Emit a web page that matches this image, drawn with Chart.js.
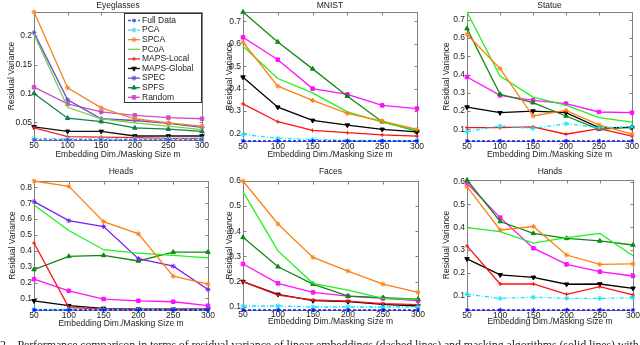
<!DOCTYPE html>
<html>
<head>
<meta charset="utf-8">
<script src="https://cdn.jsdelivr.net/npm/chart.js@4.4.0/dist/chart.umd.min.js"></script>
<style>
  body { margin: 0; background: #fff; width: 640px; height: 345px; overflow: hidden; position: relative; }
  canvas { position: absolute; }
  #caption { position: absolute; left: 0px; top: 338px; white-space: nowrap; font: 12px "Liberation Serif", serif; color: #222; letter-spacing: -0.12px; }
</style>
</head>
<body>
<canvas id="eyeglasses"></canvas>
<canvas id="mnist"></canvas>
<canvas id="statue"></canvas>
<canvas id="heads"></canvas>
<canvas id="faces"></canvas>
<canvas id="hands"></canvas>
<div id="caption">2.&nbsp;&nbsp; Performance comparison in terms of residual variance of linear embeddings (dashed lines) and masking algorithms (solid lines) with</div>
<script>
//x values (embedding dim / masking size)
const dims = [50, 100, 150, 200, 250, 300];

//Eyeglasses
const eyeFull   = [0.019, 0.019, 0.019, 0.019, 0.019, 0.019];
const eyePCA    = [0.022, 0.021, 0.021, 0.021, 0.021, 0.021];
const eyeSPCA   = [0.242, 0.110, 0.075, 0.056, 0.049, 0.043];
const eyePCoA   = [0.203, 0.076, 0.056, 0.049, 0.043, 0.037];
const eyeLocal  = [0.040, 0.025, 0.024, 0.023, 0.022, 0.022];
const eyeGlobal = [0.042, 0.034, 0.034, 0.026, 0.026, 0.026];
const eyeSPEC   = [0.206, 0.089, 0.056, 0.053, 0.048, 0.041];
const eyeSPFS   = [0.100, 0.057, 0.051, 0.040, 0.038, 0.034];
const eyeRandom = [0.111, 0.082, 0.068, 0.062, 0.058, 0.056];
const eyeTicks  = [0.05, 0.1, 0.15, 0.2];

//MNIST
const mnFull   = [0.166, 0.166, 0.166, 0.166, 0.166, 0.166];
const mnPCA    = [0.195, 0.178, 0.173, 0.169, 0.168, 0.168];
const mnSPCA   = [0.607, 0.411, 0.347, 0.289, 0.255, 0.218];
const mnPCoA   = [0.589, 0.445, 0.381, 0.296, 0.250, 0.213];
const mnLocal  = [0.332, 0.252, 0.213, 0.203, 0.193, 0.188];
const mnGlobal = [0.451, 0.317, 0.258, 0.237, 0.218, 0.207];
const mnSPFS   = [0.742, 0.608, 0.488, 0.366, 0.252, 0.210];
const mnRandom = [0.629, 0.529, 0.400, 0.374, 0.325, 0.311];
const mnTicks  = [0.2, 0.3, 0.4, 0.5, 0.6, 0.7];

//Statue
const stFull   = [0.036, 0.036, 0.036, 0.036, 0.036, 0.036];
const stPCA    = [0.087, 0.118, 0.105, 0.131, 0.109, 0.113];
const stSPCA   = [0.621, 0.433, 0.173, 0.204, 0.124, 0.073];
const stPCoA   = [0.743, 0.392, 0.277, 0.232, 0.164, 0.140];
const stLocal  = [0.109, 0.109, 0.113, 0.073, 0.104, 0.063];
const stGlobal = [0.222, 0.191, 0.200, 0.191, 0.109, 0.109];
const stSPFS   = [0.652, 0.292, 0.246, 0.173, 0.100, 0.113];
const stRandom = [0.387, 0.286, 0.259, 0.241, 0.195, 0.191];
const stTicks  = [0.1, 0.2, 0.3, 0.4, 0.5, 0.6, 0.7];

//Heads
const hdFull   = [0.027, 0.027, 0.027, 0.027, 0.027, 0.027];
const hdPCA    = [0.030, 0.030, 0.030, 0.030, 0.030, 0.030];
const hdSPCA   = [0.840, 0.806, 0.584, 0.507, 0.240, 0.190];
const hdPCoA   = [0.689, 0.528, 0.407, 0.386, 0.371, 0.355];
const hdLocal  = [0.449, 0.042, 0.035, 0.033, 0.032, 0.032];
const hdGlobal = [0.085, 0.054, 0.037, 0.033, 0.032, 0.032];
const hdSPEC   = [0.710, 0.590, 0.553, 0.350, 0.303, 0.156];
const hdSPFS   = [0.282, 0.365, 0.371, 0.336, 0.392, 0.392];
const hdRandom = [0.221, 0.148, 0.096, 0.085, 0.079, 0.054];
const hdTicks  = [0.1, 0.2, 0.3, 0.4, 0.5, 0.6, 0.7, 0.8];

//Faces
const fcFull   = [0.087, 0.087, 0.087, 0.087, 0.087, 0.087];
const fcPCA    = [0.103, 0.103, 0.099, 0.099, 0.099, 0.099];
const fcSPCA   = [0.600, 0.429, 0.296, 0.242, 0.190, 0.157];
const fcPCoA   = [0.558, 0.322, 0.193, 0.166, 0.133, 0.129];
const fcLocal  = [0.200, 0.146, 0.127, 0.122, 0.112, 0.108];
const fcGlobal = [0.200, 0.149, 0.124, 0.120, 0.109, 0.103];
const fcSPFS   = [0.376, 0.259, 0.190, 0.142, 0.136, 0.130];
const fcRandom = [0.270, 0.193, 0.157, 0.142, 0.133, 0.124];
const fcTicks  = [0.1, 0.2, 0.3, 0.4, 0.5, 0.6];

//Hands
const hnFull   = [0.037, 0.037, 0.037, 0.037, 0.037, 0.037];
const hnPCA    = [0.106, 0.088, 0.093, 0.088, 0.088, 0.090];
const hnSPCA   = [0.578, 0.388, 0.403, 0.278, 0.237, 0.239];
const hnPCoA   = [0.398, 0.381, 0.330, 0.354, 0.373, 0.275];
const hnLocal  = [0.318, 0.151, 0.151, 0.106, 0.139, 0.103];
const hnGlobal = [0.261, 0.191, 0.180, 0.150, 0.151, 0.132];
const hnSPFS   = [0.607, 0.425, 0.373, 0.351, 0.340, 0.322];
const hnRandom = [0.593, 0.442, 0.308, 0.237, 0.205, 0.186];
const hnTicks  = [0.1, 0.2, 0.3, 0.4, 0.5, 0.6];

Chart.defaults.font.family = '"Liberation Sans", Arial, sans-serif';
Chart.defaults.font.size = 8.5;
Chart.defaults.color = '#222';

//marker + dash per method
const markers = {
    'Full Data':   { point: 'star', radius: 2, dash: [3, 2] },
    'PCA':         { point: 'star', radius: 2.5, dash: [4, 2, 1, 2] },
    'SPCA':        { point: 'star', radius: 2.5 },
    'PCoA':        { point: 'circle', radius: 0 },
    'MAPS-Local':  { point: 'cross', radius: 2 },
    'MAPS-Global': { point: 'triangle', radius: 2.6, rotation: 180 },
    'SPEC':        { point: 'star', radius: 2.5 },
    'SPFS':        { point: 'triangle', radius: 2.6 },
    'Random':      { point: 'rect', radius: 2.5 }
};

const brightColors = {
    'Full Data': '#1010ff', 'PCA': '#10e8f8', 'SPCA': '#ff8010', 'PCoA': '#20f020',
    'MAPS-Local': '#ff1010', 'MAPS-Global': '#000000', 'SPEC': '#7a20f0', 'SPFS': '#108a10', 'Random': '#ff10ff'
};
const softColors = {
    'Full Data': '#3858e0', 'PCA': '#60c8f0', 'SPCA': '#f58228', 'PCoA': '#78d048',
    'MAPS-Local': '#f02828', 'MAPS-Global': '#101010', 'SPEC': '#6050c8', 'SPFS': '#108048', 'Random': '#c850c8'
};

function makeDatasets(series, colors) {
    return series.map(([name, values]) => {
        const m = markers[name];
        const c = colors[name];
        return {
            label: name,
            data: values,
            borderColor: c,
            backgroundColor: c,
            borderWidth: 1.3,
            borderDash: m.dash || [],
            pointStyle: m.point,
            pointRadius: m.radius,
            pointRotation: m.rotation || 0,
            pointBorderColor: c,
            pointBackgroundColor: c,
            pointBorderWidth: 1,
            tension: 0,
            fill: false,
            clip: false
        };
    });
}

//matlab style box with inward ticks
const boxPlugin = {
    id: 'matlabBox',
    beforeDatasetsDraw(chart) {
        const { ctx, chartArea: a, scales: { x, y } } = chart;
        const l = Math.round(a.left) + 0.5, r = Math.round(a.right) + 0.5;
        const t = Math.round(a.top) + 0.5, b = Math.round(a.bottom) + 0.5;
        ctx.save();
        ctx.strokeStyle = '#808080';
        ctx.lineWidth = 1;
        ctx.strokeRect(l, t, r - l, b - t);
        ctx.beginPath();
        x.ticks.forEach((tk, i) => {
            const px = Math.round(x.getPixelForTick(i)) + 0.5;
            ctx.moveTo(px, b); ctx.lineTo(px, b - 3);
            ctx.moveTo(px, t); ctx.lineTo(px, t + 3);
        });
        y.ticks.forEach(tk => {
            const py = Math.round(y.getPixelForValue(tk.value)) + 0.5;
            ctx.moveTo(l, py); ctx.lineTo(l + 3, py);
            ctx.moveTo(r, py); ctx.lineTo(r - 3, py);
        });
        ctx.stroke();
        ctx.restore();
    }
};

//legend inside the Eyeglasses axes
const insetLegend = {
    id: 'insetLegend',
    afterDraw(chart) {
        const { ctx, chartArea: a } = chart;
        const w = 77, h = 89;
        const left = Math.round(a.right) - w - 1, top = Math.round(a.top) + 1;
        ctx.save();
        ctx.fillStyle = '#fff';
        ctx.fillRect(left, top, w, h);
        ctx.strokeStyle = '#333';
        ctx.lineWidth = 1;
        ctx.strokeRect(left + 0.5, top + 0.5, w, h);
        chart.data.datasets.forEach((ds, i) => {
            const cy = top + 7.5 + i * 9.6;
            ctx.strokeStyle = ds.borderColor;
            ctx.lineWidth = ds.borderWidth;
            ctx.setLineDash(ds.borderDash);
            ctx.beginPath();
            ctx.moveTo(left + 4, cy);
            ctx.lineTo(left + 16, cy);
            ctx.stroke();
            ctx.setLineDash([]);
            ctx.fillStyle = ds.pointBackgroundColor;
            ctx.strokeStyle = ds.pointBorderColor;
            ctx.lineWidth = 1;
            Chart.helpers.drawPoint(ctx, { pointStyle: ds.pointStyle, radius: ds.pointRadius, rotation: ds.pointRotation, borderWidth: 1 }, left + 10, cy);
            ctx.fillStyle = '#222';
            ctx.font = '8.5px "Liberation Sans", Arial, sans-serif';
            ctx.textBaseline = 'middle';
            ctx.textAlign = 'left';
            ctx.fillText(ds.label, left + 18, cy);
        });
        ctx.restore();
    }
};

function makePanel(p) {
    const all = p.series.flatMap(s => s[1]);
    const canvas = document.getElementById(p.id);
    const cx = p.left - 34, cw = p.right - p.left + 34 + 12;
    canvas.width = cw;
    canvas.height = p.h;
    canvas.style.left = cx + 'px';
    canvas.style.top = p.y + 'px';

    const config = {
        type: 'line',
        data: { labels: dims, datasets: makeDatasets(p.series, p.colors) },
        options: {
            responsive: false,
            animation: false,
            devicePixelRatio: 1,
            layout: { padding: { left: 0, top: 0, right: 12, bottom: 0 } },
            plugins: {
                legend: { display: false },
                tooltip: { enabled: false },
                title: {
                    display: true,
                    text: p.title,
                    fullSize: false,
                    font: { size: 8.5, weight: 'normal' },
                    color: '#222',
                    padding: p.titlePad
                }
            },
            scales: {
                x: {
                    grid: { display: false, drawTicks: false },
                    border: { display: false },
                    ticks: { autoSkip: false, maxRotation: 0, padding: p.xTickPad },
                    title: { display: true, text: 'Embedding Dim./Masking Size m', padding: { top: 0, bottom: p.xTitlePad } },
                    afterFit: s => { s.height = p.h - p.bottom; }
                },
                y: {
                    min: Math.min(...all),
                    max: Math.max(...all),
                    grid: { display: false, drawTicks: false },
                    border: { display: false },
                    ticks: { padding: 2, callback: v => String(v) },
                    afterBuildTicks: s => { s.ticks = p.ticks.map(v => ({ value: v })); },
                    title: { display: true, text: 'Residual Variance', padding: { top: p.yTitlePad, bottom: 0 } },
                    afterFit: s => { s.width = 34; }
                }
            }
        },
        plugins: p.legend ? [boxPlugin, insetLegend] : [boxPlugin]
    };
    new Chart(canvas, config);
}

makePanel({
    id: 'eyeglasses', title: 'Eyeglasses', y: 0, h: 165, left: 34, right: 202, bottom: 140,
    titlePad: { top: 0.5, bottom: 1.3 }, xTickPad: 1, xTitlePad: 5.6, yTitlePad: 6.9,
    ticks: eyeTicks, colors: softColors, legend: true,
    series: [['Full Data', eyeFull], ['PCA', eyePCA], ['SPCA', eyeSPCA], ['PCoA', eyePCoA], ['MAPS-Local', eyeLocal],
             ['MAPS-Global', eyeGlobal], ['SPEC', eyeSPEC], ['SPFS', eyeSPFS], ['Random', eyeRandom]]
});
makePanel({
    id: 'mnist', title: 'MNIST', y: 0, h: 165, left: 243, right: 417, bottom: 141,
    titlePad: { top: 0.5, bottom: 1.3 }, xTickPad: 1, xTitlePad: 4.9, yTitlePad: 15.9,
    ticks: mnTicks, colors: brightColors,
    series: [['Full Data', mnFull], ['PCA', mnPCA], ['SPCA', mnSPCA], ['PCoA', mnPCoA], ['MAPS-Local', mnLocal],
             ['MAPS-Global', mnGlobal], ['SPFS', mnSPFS], ['Random', mnRandom]]
});
makePanel({
    id: 'statue', title: 'Statue', y: 0, h: 165, left: 467, right: 632, bottom: 141,
    titlePad: { top: 0.5, bottom: 1.3 }, xTickPad: 1, xTitlePad: 4.9, yTitlePad: 8.9,
    ticks: stTicks, colors: brightColors,
    series: [['Full Data', stFull], ['PCA', stPCA], ['SPCA', stSPCA], ['PCoA', stPCoA], ['MAPS-Local', stLocal],
             ['MAPS-Global', stGlobal], ['SPFS', stSPFS], ['Random', stRandom]]
});
makePanel({
    id: 'heads', title: 'Heads', y: 165, h: 180, left: 34, right: 208, bottom: 145,
    titlePad: { top: 1.6, bottom: 4.2 }, xTickPad: 0.2, xTitlePad: 16.6, yTitlePad: 7.6,
    ticks: hdTicks, colors: brightColors,
    series: [['Full Data', hdFull], ['PCA', hdPCA], ['SPCA', hdSPCA], ['PCoA', hdPCoA], ['MAPS-Local', hdLocal],
             ['MAPS-Global', hdGlobal], ['SPEC', hdSPEC], ['SPFS', hdSPFS], ['Random', hdRandom]]
});
makePanel({
    id: 'faces', title: 'Faces', y: 165, h: 180, left: 243, right: 418, bottom: 145,
    titlePad: { top: 1.6, bottom: 4.2 }, xTickPad: 0, xTitlePad: 18.2, yTitlePad: 15.9,
    ticks: fcTicks, colors: brightColors,
    series: [['Full Data', fcFull], ['PCA', fcPCA], ['SPCA', fcSPCA], ['PCoA', fcPCoA], ['MAPS-Local', fcLocal],
             ['MAPS-Global', fcGlobal], ['SPFS', fcSPFS], ['Random', fcRandom]]
});
makePanel({
    id: 'hands', title: 'Hands', y: 165, h: 180, left: 467, right: 633, bottom: 145,
    titlePad: { top: 1.6, bottom: 3.2 }, xTickPad: 0.2, xTitlePad: 18.2, yTitlePad: 8.9,
    ticks: hnTicks, colors: brightColors,
    series: [['Full Data', hnFull], ['PCA', hnPCA], ['SPCA', hnSPCA], ['PCoA', hnPCoA], ['MAPS-Local', hnLocal],
             ['MAPS-Global', hnGlobal], ['SPFS', hnSPFS], ['Random', hnRandom]]
});
</script>
</body>
</html>
